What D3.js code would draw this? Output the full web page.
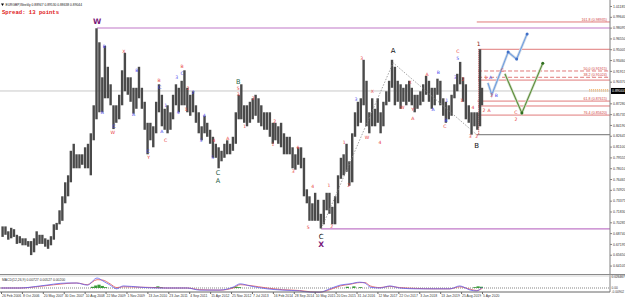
<!DOCTYPE html>
<html>
<head>
<meta charset="utf-8">
<script src="https://cdn.jsdelivr.net/npm/d3@7"></script>
<style>
  body { margin: 0; background: #fff; }
  svg { display: block; }
  text { font-family: "Liberation Sans", sans-serif; }
</style>
</head>
<body>
<div id="chart"></div>
<script>
// EURGBP weekly, values (monthly high / low)
const firstBar = "2006-02-26";
const monthStart = "2006-03-01";

const highs = [
  0.697,0.697,0.690,0.695,0.693,0.685,0.683,0.680,0.680,0.676,
  0.676,0.680,0.690,0.685,0.685,0.680,0.678,0.683,0.700,0.702,0.720,0.740,
  0.760,0.770,0.805,0.815,0.800,0.800,0.800,0.810,0.815,0.830,0.870,0.980,
  0.960,0.910,0.955,0.925,0.900,0.870,0.870,0.885,0.920,0.945,0.910,0.910,
  0.895,0.895,0.925,0.895,0.875,0.845,0.845,0.840,0.875,0.900,0.885,0.865,
  0.870,0.860,0.885,0.900,0.895,0.905,0.920,0.895,0.885,0.890,0.870,0.860,
  0.840,0.855,0.845,0.835,0.825,0.815,0.810,0.805,0.815,0.820,0.815,0.825,
  0.860,0.885,0.900,0.870,0.870,0.875,0.880,0.885,0.880,0.870,0.860,0.860,
  0.860,0.845,0.845,0.840,0.845,0.830,0.825,0.825,0.810,0.800,0.810,0.810,
  0.795,0.750,0.740,0.730,0.745,0.735,0.715,0.735,0.745,0.745,0.725,0.740,
  0.770,0.795,0.800,0.815,0.790,0.830,0.860,0.875,0.880,0.935,0.905,0.860,
  0.880,0.865,0.880,0.860,0.875,0.890,0.905,0.935,0.925,0.905,0.900,0.895,
  0.900,0.905,0.895,0.885,0.885,0.890,0.900,0.912,0.905,0.895,0.895,0.908,
  0.905,0.880,0.875,0.870,0.885,0.900,0.915,0.932,0.910,0.900,0.870,0.860,
  0.860,0.860,0.950,0.895
];
const lows = [
  0.682,0.685,0.678,0.680,0.682,0.672,0.673,0.670,0.670,0.668,
  0.656,0.660,0.670,0.672,0.672,0.668,0.665,0.670,0.678,0.692,0.700,0.705,
  0.730,0.740,0.760,0.780,0.780,0.780,0.785,0.780,0.780,0.770,0.820,0.850,
  0.860,0.860,0.880,0.880,0.870,0.836,0.845,0.850,0.870,0.890,0.885,0.875,
  0.858,0.865,0.880,0.865,0.835,0.800,0.820,0.810,0.830,0.860,0.840,0.835,
  0.830,0.835,0.850,0.870,0.860,0.870,0.870,0.860,0.855,0.860,0.845,0.830,
  0.820,0.830,0.825,0.815,0.795,0.795,0.780,0.790,0.795,0.800,0.800,0.805,
  0.815,0.850,0.850,0.845,0.840,0.845,0.850,0.855,0.845,0.840,0.835,0.835,
  0.825,0.815,0.820,0.815,0.810,0.800,0.800,0.800,0.780,0.778,0.785,0.780,
  0.740,0.730,0.705,0.705,0.705,0.705,0.694,0.700,0.720,0.715,0.700,0.700,
  0.730,0.765,0.770,0.775,0.755,0.760,0.825,0.840,0.845,0.870,0.840,0.830,
  0.840,0.840,0.845,0.830,0.840,0.870,0.875,0.895,0.870,0.875,0.865,0.875,
  0.870,0.875,0.870,0.860,0.865,0.870,0.875,0.885,0.875,0.865,0.870,0.885,
  0.870,0.855,0.845,0.850,0.855,0.880,0.890,0.900,0.875,0.850,0.845,0.828,
  0.840,0.835,0.840,0.870
];

const dateLabels = ["26 Feb 2006","8 Oct 2006","20 May 2007","30 Dec 2007","10 Aug 2008","22 Mar 2009",
  "1 Nov 2009","13 Jun 2010","23 Jan 2011","4 Sep 2011","15 Apr 2012","25 Nov 2012","7 Jul 2013",
  "16 Feb 2014","28 Sep 2014","10 May 2015","20 Dec 2015","31 Jul 2016","12 Mar 2017","22 Oct 2017",
  "3 Jun 2018","13 Jan 2019","25 Aug 2019","5 Apr 2020"];

const priceTicks = [1.01185,0.99640,0.98095,0.96550,0.95005,0.93460,0.91915,0.90370,0.87280,
  0.85735,0.84190,0.82645,0.81100,0.79555,0.78010,0.76465,0.74920,0.73375,0.71830,0.70285,0.68740,
  0.67195,0.65650,0.64105];

const lastPrice = 0.89044;
const titleText = "EURGBP,Weekly  0.88947 0.89530 0.88638 0.89044";

// wave labels: [text, bar index (weeks), price]
const purpleLabels = [["W",147,0.989],["X",490,0.671]];
const blackLabels = [["C",490,0.682],["A",600,0.947],["B",728,0.812]];
const greenLabels = [["B",363,0.903],["C",332,0.773],["A",332,0.762]];
const redLabels = [
  ["X",188,0.946],["W",171,0.831],["Y",226,0.795],["B",242,0.905],["C",252,0.820],["B",277,0.925],
  ["2",286,0.893],["1",283,0.863],["4",326,0.820],["A",347,0.822],["5",363,0.893],["3",363,0.885],
  ["1",373,0.839],["2",386,0.880],["2",419,0.846],["1",416,0.813],["4",454,0.810],["3",447,0.775],
  ["4",477,0.753],["5",470,0.695],["2",506,0.696],["1",502,0.755],["1",525,0.816],["2",532,0.755],
  ["3",552,0.936],["X",568,0.889],["W",560,0.823],["4",580,0.816],["W",614,0.866],["X",626,0.902],
  ["Y",630,0.863],["A",630,0.851],["A",652,0.913],["C",679,0.839],["C",699,0.946],["2",707,0.906],
  ["1",705,0.877],["4",722,0.866],["3",718,0.825],["2",728,0.825],["2",739,0.862],["A",747,0.862],
  ["1",742,0.910],["2",751,0.883],["C",767,0.919],["C",788,0.859],["2",788,0.849]
];
const blueLabels = [
  ["B",158,0.953],["A",155,0.860],["C",173,0.840],["B",208,0.919],["A",203,0.857],["C",225,0.803],
  ["C",243,0.895],["1",252,0.870],["A",246,0.832],["3",269,0.909],["C",277,0.915],["4",271,0.859],
  ["2",294,0.888],["4",311,0.855],["3",306,0.819],["5",324,0.795],["3",543,0.878],["B",669,0.916],
  ["A",661,0.863],["B",681,0.848],["5",699,0.936],["3",695,0.909],["1",682,0.877],["A",749,0.910],
  ["B",758,0.883]
];
const topLabel = ["1",731,0.957];

// dotted wave lines and projections: [bar index, price]
const waveLine = [[490,0.6936],[600,0.9307],[728,0.828]];
const bluePath = [[745,0.902],[751,0.885],[776,0.946],[789,0.936],[805,0.972]];
const greenPath = [[771,0.915],[797,0.859],[829,0.930]];

// horizontal levels: [price, from bar, label]
const purpleLevels = [[0.9804,147],[0.6936,490]];
const fibSolid = [[0.989,728,"161.8 (0.98935)"],[0.950,731,""],[0.906,730,""],[0.876,729,"61.8 (0.87615)"],
  [0.869,730,""],[0.856,728,"76.4 (0.85620)"]];
const fibDashed = [[0.919,730,"50.0 (0.91915)"],[0.910,730,"38.2 (0.91024)"]];
const bLevel = [0.828,728];
const spikeBar = [731,0.950,0.828];

// oscillator sub window
const indWeeks = [0,29,60,101,116,132,147,156,167,177,187,213,239,254,285,304,335,355,366,381,407,431,
  457,473,488,503,519,534,549,557,565,580,595,610,636,661,687,702,718,728,736];
const macdBlue = [0,0,0.005,0.012,0.012,0.007,0.024,0.017,0.007,-0.002,0.005,0.002,0,0,0,-0.005,-0.005,
  0.002,0.010,0.005,-0.002,-0.005,-0.007,-0.010,-0.010,-0.002,0.007,0.010,0.014,0.012,0.002,0,0.005,0,
  -0.002,-0.002,-0.002,0.005,-0.005,-0.007,0.002];
const macdRed = [0,0,0.004,0.011,0.012,0.008,0.020,0.019,0.010,0.001,0.003,0.002,0.001,0,0,-0.004,-0.005,
  0,0.008,0.006,0,-0.004,-0.006,-0.009,-0.010,-0.004,0.005,0.009,0.013,0.013,0.005,0.001,0.004,0.001,
  -0.001,-0.002,-0.002,0.003,-0.003,-0.006,-0.001];
const histWeeks = [140,145,150,155,160,235,240,245,355,360,365,530,540,550,725,730,735];
const histVals = [0.003,0.006,0.008,0.005,0.002,0.002,0.004,0.002,0.002,0.003,0.002,0.003,0.004,0.002,0.002,0.004,0.003];
const indTicks = [[0.0262,"0.026467"],[0,"0.00"],[-0.0085,"-0.00902"]];
const indTitle = "MACD(12,26,9) 0.00727 0.00527 0.00200";

const width = 625, height = 301;
const plotRight = 610, priceBottom = 274, indTop = 277, indBottom = 292;

const svg = d3.select("#chart").append("svg").attr("width", width).attr("height", height);

const x = d3.scaleLinear().domain([0, 736]).range([1, 482]);
const y = d3.scaleLinear().domain([0.629, 1.0204]).range([priceBottom, 0]);
const yi = d3.scaleLinear().domain([-0.0096, 0.0265]).range([indBottom, indTop]);

const parse = d3.timeParse("%Y-%m-%d");
const t0 = parse(firstBar);
const weekOf = d => (d - t0) / 6048e5;
const m0 = parse(monthStart);
const bars = highs.map((h, i) => ({
  w: Math.min(736, weekOf(d3.timeDay.offset(d3.timeMonth.offset(m0, i), 14))),
  h: h, l: lows[i]
}));

// current price line
svg.append("line").attr("x1", 0).attr("x2", plotRight)
   .attr("y1", y(lastPrice)).attr("y2", y(lastPrice))
   .attr("stroke", "#c8c8c8").attr("stroke-width", 1);

// level lines
svg.selectAll(".plev").data(purpleLevels).enter().append("line")
   .attr("x1", d => x(d[1])).attr("x2", plotRight)
   .attr("y1", d => y(d[0])).attr("y2", d => y(d[0]))
   .attr("stroke", "#c078c8").attr("stroke-width", 1.2);

svg.append("line").attr("x1", x(bLevel[1])).attr("x2", plotRight)
   .attr("y1", y(bLevel[0])).attr("y2", y(bLevel[0]))
   .attr("stroke", "#8c8c8c").attr("stroke-width", 1.2);

svg.selectAll(".fs").data(fibSolid).enter().append("line")
   .attr("x1", d => x(d[1])).attr("x2", plotRight)
   .attr("y1", d => y(d[0])).attr("y2", d => y(d[0]))
   .attr("stroke", "#e07a7a").attr("stroke-width", 1);

svg.selectAll(".fd").data(fibDashed).enter().append("line")
   .attr("x1", d => x(d[1])).attr("x2", plotRight)
   .attr("y1", d => y(d[0])).attr("y2", d => y(d[0]))
   .attr("stroke", "#e07a7a").attr("stroke-width", 1).attr("stroke-dasharray", "4,2");

svg.selectAll(".fl").data(fibSolid.concat(fibDashed).filter(d => d[2])).enter().append("text")
   .attr("x", plotRight - 3).attr("y", d => y(d[0]) - 1)
   .attr("text-anchor", "end").style("font-size", "3.6px").attr("fill", "#d04040")
   .text(d => d[2]);

// red dotted vertical under the spike
svg.append("line").attr("x1", x(spikeBar[0])).attr("x2", x(spikeBar[0]))
   .attr("y1", y(spikeBar[1])).attr("y2", y(spikeBar[2]))
   .attr("stroke", "#d04040").attr("stroke-width", 1).attr("stroke-dasharray", "1,1");

// price bars
svg.selectAll(".bar").data(bars).enter().append("line")
   .attr("x1", d => x(d.w)).attr("x2", d => x(d.w))
   .attr("y1", d => y(d.h)).attr("y2", d => y(d.l))
   .attr("stroke", "#4a4a4a").attr("stroke-width", 2.4);

// dotted wave line
const line = d3.line().x(d => x(d[0])).y(d => y(d[1]));
svg.append("path").attr("d", line(waveLine)).attr("fill", "none")
   .attr("stroke", "#8a8a8a").attr("stroke-width", 0.8).attr("stroke-dasharray", "1.5,1.5");

// projections
svg.append("path").attr("d", line(bluePath)).attr("fill", "none")
   .attr("stroke", "#cfd8e6").attr("stroke-width", 2.6);
svg.append("path").attr("d", line(bluePath)).attr("fill", "none")
   .attr("stroke", "#6f9fe0").attr("stroke-width", 1.1);
svg.append("path").attr("d", line(greenPath)).attr("fill", "none")
   .attr("stroke", "#d6e2cc").attr("stroke-width", 2.6);
svg.append("path").attr("d", line(greenPath)).attr("fill", "none")
   .attr("stroke", "#5f8f3f").attr("stroke-width", 1.1);
svg.selectAll(".bp").data(bluePath.slice(2)).enter().append("circle")
   .attr("cx", d => x(d[0])).attr("cy", d => y(d[1])).attr("r", 1.5).attr("fill", "#3f6fc8");
svg.selectAll(".gp").data(greenPath.slice(1)).enter().append("circle")
   .attr("cx", d => x(d[0])).attr("cy", d => y(d[1])).attr("r", 1.5).attr("fill", "#2f6f1f");

// wave labels
function labels(data, color, size, weight) {
  svg.append("g").selectAll("text").data(data).enter().append("text")
     .attr("x", d => x(d[1])).attr("y", d => y(d[2]))
     .attr("text-anchor", "middle").attr("dominant-baseline", "middle")
     .attr("fill", color).style("font-size", size).style("font-weight", weight)
     .style("font-family", "DejaVu Sans")
     .text(d => d[0]);
}
labels(redLabels, "#e83c3c", "4.6px", "normal");
labels(blueLabels, "#4a4aee", "4.6px", "normal");
labels(greenLabels, "#2a5f48", "6.5px", "normal");
labels(blackLabels, "#111", "7px", "normal");
labels(purpleLabels, "#7a1a7a", "7.5px", "bold");
labels([topLabel], "#8a2020", "6px", "normal");

// price axis
svg.append("line").attr("x1", plotRight).attr("x2", plotRight).attr("y1", 0).attr("y2", indBottom)
   .attr("stroke", "#808080").attr("stroke-width", 1);
const yAxis = svg.append("g").attr("transform", "translate(" + plotRight + ",0)")
   .call(d3.axisRight(y).tickValues(priceTicks).tickFormat(d3.format(".5f")).tickSize(2).tickPadding(1));
yAxis.select(".domain").remove();
yAxis.selectAll("line").attr("stroke", "#808080");
yAxis.selectAll("text").style("font-size", "3.5px").style("font-family", "Liberation Sans").attr("fill", "#333");

// current price tag
svg.append("rect").attr("x", plotRight + 1).attr("y", y(lastPrice) - 3).attr("width", 14).attr("height", 6).attr("fill", "#000");
svg.append("text").attr("x", plotRight + 2).attr("y", y(lastPrice) + 1.3)
   .style("font-size", "3.5px").attr("fill", "#fff").text(d3.format(".5f")(lastPrice));

// orange dotted bid/ask marks
svg.selectAll(".ba").data([0.8925, 0.8904]).enter().append("line")
   .attr("x1", x(900)).attr("x2", plotRight - 1).attr("y1", d => y(d)).attr("y2", d => y(d))
   .attr("stroke", "#f0a040").attr("stroke-width", 0.8).attr("stroke-dasharray", "1,1");

// sub window
svg.append("line").attr("x1", 0).attr("x2", width).attr("y1", priceBottom + 0.5).attr("y2", priceBottom + 0.5)
   .attr("stroke", "#8a8a8a").attr("stroke-width", 1);
svg.append("line").attr("x1", 0).attr("x2", width).attr("y1", priceBottom + 2).attr("y2", priceBottom + 2)
   .attr("stroke", "#c8c8c8").attr("stroke-width", 0.8);

svg.append("line").attr("x1", 0).attr("x2", plotRight).attr("y1", yi(0)).attr("y2", yi(0))
   .attr("stroke", "#333").attr("stroke-width", 0.6).attr("stroke-dasharray", "1,1");

svg.selectAll(".hist").data(histWeeks).enter().append("line")
   .attr("x1", d => x(d)).attr("x2", d => x(d))
   .attr("y1", yi(0)).attr("y2", (d, i) => yi(histVals[i]))
   .attr("stroke", "#3a9a3a").attr("stroke-width", 3.2);

const iline = d3.line().curve(d3.curveMonotoneX).x(d => x(d[0])).y(d => yi(d[1]));
svg.append("path").attr("d", iline(indWeeks.map((w, i) => [w, macdRed[i]]))).attr("fill", "none")
   .attr("stroke", "#e05050").attr("stroke-width", 0.8);
svg.append("path").attr("d", iline(indWeeks.map((w, i) => [w, macdBlue[i]]))).attr("fill", "none")
   .attr("stroke", "#6060f0").attr("stroke-width", 0.8);

svg.append("text").attr("x", 2).attr("y", indTop + 3.5).style("font-size", "3.4px").attr("fill", "#333").text(indTitle);
svg.selectAll(".it").data(indTicks).enter().append("text")
   .attr("x", plotRight + 1.5).attr("y", d => yi(d[0]) + 1.2)
   .style("font-size", "3.2px").attr("fill", "#333").text(d => d[1]);

// time axis
const xAxis = svg.append("g").attr("transform", "translate(0," + indBottom + ")")
   .call(d3.axisBottom(x).tickValues(d3.range(0, 737, 32)).tickFormat((d, i) => dateLabels[i]).tickSize(2).tickPadding(1));
xAxis.select(".domain").attr("stroke", "#666").attr("d", "M0,0H" + plotRight);
xAxis.selectAll("line").attr("stroke", "#666");
xAxis.selectAll("text").attr("text-anchor", "start").attr("dx", "0.5")
   .style("font-size", "3.4px").style("font-family", "Liberation Sans").attr("fill", "#333");

// header
svg.append("path").attr("d", "M1,3.5L4,3.5L2.5,6Z").attr("fill", "#000");
svg.append("text").attr("x", 5.5).attr("y", 6).style("font-size", "3.3px").attr("fill", "#222").text(titleText);
svg.append("text").attr("x", 2).attr("y", 14).style("font-size", "5.6px").style("font-weight", "bold")
   .style("font-family", "Liberation Mono").attr("fill", "#e02020").text("Spread: 13 points");
</script>
</body>
</html>
